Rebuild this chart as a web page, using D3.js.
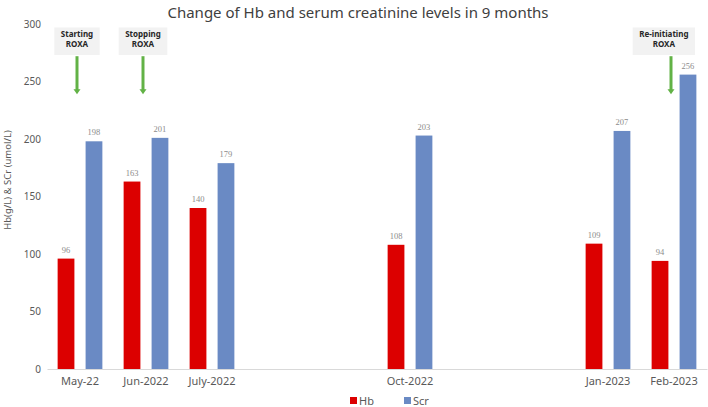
<!DOCTYPE html>
<html>
<head>
<meta charset="utf-8">
<script src="https://cdn.jsdelivr.net/npm/d3@7"></script>
<style>
  body { margin: 0; background: #fff; }
  svg { display: block; font-family: "Noto Sans", sans-serif; }
</style>
</head>
<body>
<svg id="chart" width="708" height="407"></svg>
<script>
// months on the date axis (empty months keep their slot)
const allMonths = ["2022-05", "2022-06", "2022-07", "2022-08", "2022-09", "2022-10", "2022-11", "2022-12", "2023-01", "2023-02"];
const months = ["2022-05", "2022-06", "2022-07", "2022-10", "2023-01", "2023-02"];
const tickLabels = ["May-22", "Jun-2022", "July-2022", "Oct-2022", "Jan-2023", "Feb-2023"];
const series = ["Hb", "Scr"];
const hb = [96, 163, 140, 108, 109, 94];
const scr = [198, 201, 179, 203, 207, 256];
const yTicks = [0, 50, 100, 150, 200, 250, 300];
const noteMonths = ["2022-05", "2022-06", "2023-02"];
const noteLines = [["Starting", "ROXA"], ["Stopping", "ROXA"], ["Re-initiating", "ROXA"]];

const width = 708, height = 407;
const margin = { top: 24, right: 1, bottom: 38, left: 47 };
const colors = { Hb: "#dc0000", Scr: "#6a8ac4" };

const svg = d3.select("#chart");

// scales
const x0 = d3.scaleBand()
  .domain(allMonths)
  .range([margin.left, width - margin.right]);

const x1 = d3.scaleBand()
  .domain(series)
  .range([0, x0.bandwidth()])
  .paddingInner(0.4)
  .paddingOuter(0.38);

const y = d3.scaleLinear()
  .domain([0, 300])
  .range([height - margin.bottom, margin.top]);

const rows = months.map((m, i) => ({ month: m, label: tickLabels[i], Hb: hb[i], Scr: scr[i] }));

// title
svg.append("text")
  .attr("x", 358)
  .attr("y", 18)
  .attr("text-anchor", "middle")
  .attr("font-size", 15)
  .attr("fill", "#404040")
  .text("Change of Hb and serum creatinine levels in 9 months");

// y axis labels (no line)
const yAxis = g => g
  .attr("transform", "translate(" + (margin.left - 6) + ",0)")
  .call(d3.axisLeft(y).tickValues(yTicks).tickSize(0).tickPadding(0))
  .call(g => g.select(".domain").remove())
  .call(g => g.selectAll("text")
    .attr("font-family", "Noto Sans, sans-serif")
    .attr("font-size", 10)
    .attr("fill", "#595959"));
svg.append("g").call(yAxis);

svg.append("text")
  .attr("transform", "translate(11,180) rotate(-90)")
  .attr("text-anchor", "middle")
  .attr("font-size", 9.5)
  .attr("fill", "#595959")
  .text("Hb(g/L) & SCr (umol/L)");

// x axis
const labelOf = m => { const i = months.indexOf(m); return i < 0 ? "" : tickLabels[i]; };
const xAxis = g => g
  .attr("transform", "translate(0," + y(0) + ")")
  .call(d3.axisBottom(x0).tickSize(0).tickPadding(8).tickFormat(labelOf))
  .call(g => g.select(".domain").attr("stroke", "#d9d9d9"))
  .call(g => g.selectAll("text")
    .attr("font-family", "Noto Sans, sans-serif")
    .attr("font-size", 11)
    .attr("fill", "#595959"));

// bars
const groups = svg.append("g")
  .selectAll("g")
  .data(rows)
  .join("g")
  .attr("transform", d => "translate(" + x0(d.month) + ",0)");

groups.selectAll("rect")
  .data(d => series.map(k => ({ key: k, value: d[k] })))
  .join("rect")
  .attr("x", d => x1(d.key))
  .attr("width", x1.bandwidth())
  .attr("y", d => y(d.value))
  .attr("height", d => y(0) - y(d.value))
  .attr("fill", d => colors[d.key]);

groups.selectAll("text")
  .data(d => series.map(k => ({ key: k, value: d[k] })))
  .join("text")
  .attr("x", d => x1(d.key) + x1.bandwidth() / 2)
  .attr("y", d => y(d.value) - 6)
  .attr("text-anchor", "middle")
  .attr("font-family", "Liberation Serif, serif")
  .attr("font-size", 8.5)
  .attr("fill", "#8c8c8c")
  .text(d => d.value);

svg.append("g").call(xAxis);

// annotations
const boxTop = 297, boxBottom = 273, arrowFrom = 272, arrowTo = 239;
noteMonths.forEach((m, i) => {
  const cx = x0(m) + x0.bandwidth() / 2 - 3;
  const g = svg.append("g");
  const box = g.append("rect").attr("fill", "#f2f2f2");
  const t = g.append("text")
    .attr("text-anchor", "middle")
    .attr("font-size", 8)
    .attr("font-weight", "bold")
    .attr("fill", "#262626");
  noteLines[i].forEach((line, j) => {
    t.append("tspan").attr("x", 0).attr("y", j * 10).text(line);
  });
  const tw = t.node().getBBox().width;
  const bw = tw + 13;
  let bx = cx - bw / 2;
  if (bx + bw > width - 13) bx = width - 13 - bw;
  box.attr("x", bx).attr("y", y(boxTop)).attr("width", bw).attr("height", y(boxBottom) - y(boxTop));
  t.attr("transform", "translate(" + (bx + bw / 2) + "," + (y(boxTop) + 10) + ")");

  const yEnd = y(arrowTo);
  g.append("line")
    .attr("x1", cx).attr("x2", cx)
    .attr("y1", y(arrowFrom)).attr("y2", yEnd - 4)
    .attr("stroke", "#62b246")
    .attr("stroke-width", 3);
  g.append("path")
    .attr("d", d3.line()([[cx - 3.5, yEnd - 5], [cx + 3.5, yEnd - 5], [cx, yEnd]]) + "Z")
    .attr("fill", "#62b246");
});

// legend
const legend = svg.append("g").attr("transform", "translate(350,401)");
const legendX = [0, 54];
series.forEach((k, i) => {
  legend.append("rect")
    .attr("x", legendX[i]).attr("y", -4)
    .attr("width", 7).attr("height", 7)
    .attr("fill", colors[k]);
  legend.append("text")
    .attr("x", legendX[i] + 9).attr("y", 4)
    .attr("font-size", 11)
    .attr("fill", "#595959")
    .text(k);
});
</script>
</body>
</html>
